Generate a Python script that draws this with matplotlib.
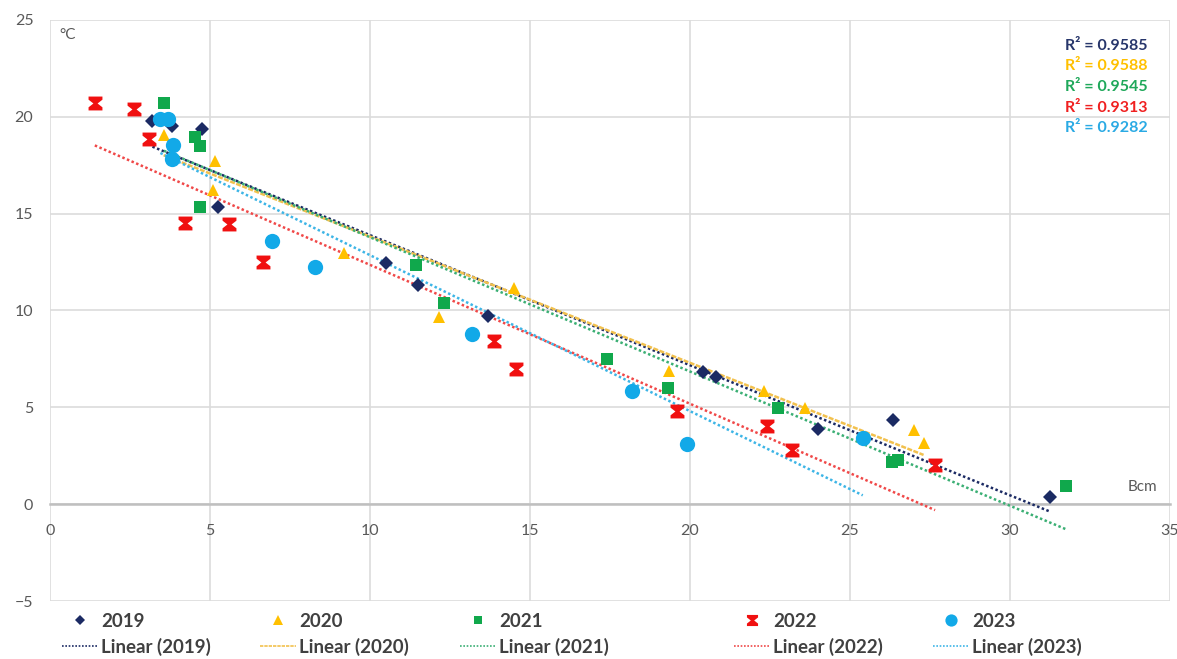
import numpy as np
import matplotlib.pyplot as plt
from matplotlib.path import Path
from matplotlib.lines import Line2D

plt.rcParams['font.family'] = ['Lato', 'DejaVu Sans']

# data (x in Bcm, y in °C)
x2019 = [3.2, 3.8, 4.75, 5.25, 10.5, 11.5, 13.7, 20.4, 20.8, 24.0, 26.35, 31.25]
y2019 = [19.8, 19.5, 19.35, 15.35, 12.45, 11.3, 9.7, 6.8, 6.55, 3.9, 4.35, 0.37]

# one 2020 triangle sits under the cyan cluster near (3.7, 19.9)
x2020 = [3.55, 3.7, 5.15, 5.1, 9.2, 12.15, 14.5, 19.35, 22.3, 23.6, 27.0, 27.3]
y2020 = [19.05, 19.9, 17.7, 16.2, 12.95, 9.67, 11.15, 6.9, 5.85, 4.95, 3.85, 3.15]

x2021 = [3.56, 4.53, 4.7, 4.7, 11.45, 12.3, 17.4, 19.3, 22.75, 26.3, 26.5, 31.75]
y2021 = [20.7, 18.97, 18.5, 15.35, 12.35, 10.4, 7.5, 6.0, 4.95, 2.2, 2.3, 0.95]

x2022 = [1.4, 2.63, 3.1, 4.22, 5.6, 6.66, 13.87, 14.56, 19.6, 22.4, 23.2, 27.66]
y2022 = [20.7, 20.4, 18.85, 14.5, 14.45, 12.5, 8.42, 6.97, 4.8, 4.03, 2.8, 2.0]

x2023 = [3.45, 3.7, 3.85, 3.8, 6.95, 8.28, 13.2, 18.2, 19.9, 25.4]
y2023 = [19.9, 19.9, 18.55, 17.8, 13.6, 12.25, 8.8, 5.85, 3.1, 3.4]

years = ["2019", "2020", "2021", "2022", "2023"]
r2_labels = ["R² = 0.9585", "R² = 0.9588", "R² = 0.9545", "R² = 0.9313", "R² = 0.9282"]

# excel-like "x" marker, looks like an hourglass at this size
hourglass = Path([(-1, 1), (1, 1), (1, 0.55), (0.3, 0), (1, -0.55), (1, -1),
                  (-1, -1), (-1, -0.55), (-0.3, 0), (-1, 0.55), (-1, 1)],
                 [Path.MOVETO] + [Path.LINETO] * 9 + [Path.CLOSEPOLY])

series = [
    (x2019, y2019, '#1B2A63', 'D', 7, '#1B2A63', (0, (1, 1))),
    (x2020, y2020, '#FFC000', '^', 9, '#F2C14E', (0, (2, 0.6))),
    (x2021, y2021, '#10A84C', 's', 8, '#3BAF74', (0, (1, 1))),
    (x2022, y2022, '#F01010', hourglass, 10, '#F04848', (0, (1, 1))),
    (x2023, y2023, '#12A9E8', 'o', 11, '#3DB5E6', (0, (1, 1))),
]
r2_colors = ['#27366B', '#FFC000', '#1FA85A', '#F02020', '#2AAAE4']
# left edge of each legend column, in figure pixels
legend_left = [62, 260, 460, 734, 933]

W, H = 1177, 659
fig = plt.figure(figsize=(W / 100, H / 100), dpi=100)
ax = fig.add_axes([0.0425, 0.088, 0.9515, 0.8817])

for (xs, ys, col, mk, ms, lcol, ls), yr, lx in zip(series, years, legend_left):
    xs = np.array(xs)
    ys = np.array(ys)
    ax.plot(xs, ys, linestyle='none', marker=mk, markersize=ms, color=col,
            markeredgewidth=0, zorder=4)
    # excel linear trendline over the series x range
    k, b = np.polyfit(xs, ys, 1)
    xl = np.array([xs.min(), xs.max()])
    ax.plot(xl, k * xl + b, color=lcol, linestyle=ls, linewidth=1.8, zorder=3)

    hs = [Line2D([], [], linestyle='none', marker=mk, color=col,
                 markersize=ms * 0.8, markeredgewidth=0, label=yr),
          Line2D([], [], color=lcol, linestyle=ls, linewidth=1.2,
                 label="Linear (%s)" % yr)]
    leg = fig.legend(handles=hs, loc='upper left',
                     bbox_to_anchor=(lx / W, 1 - 613 / H), frameon=False,
                     prop={'size': 13.5, 'weight': 'bold'}, handlelength=1.9,
                     handletextpad=0.2, labelspacing=0.4, borderpad=0,
                     borderaxespad=0)
    for t in leg.get_texts():
        t.set_color('#404040')

ax.set_xlim(0, 35)
ax.set_ylim(-5, 25)
ax.set_xticks(np.arange(0, 36, 5))
ax.set_yticks(np.arange(-5, 26, 5))
ax.grid(True, color='#DCDCDC', linewidth=1.2, zorder=0)
ax.set_axisbelow(True)
for s in ['top', 'right', 'left']:
    ax.spines[s].set_visible(False)
ax.spines['bottom'].set_position(('data', 0))
ax.spines['bottom'].set_color('#BFBFBF')
ax.spines['bottom'].set_linewidth(1.8)
ax.tick_params(length=0, labelsize=11.5, labelcolor='#595959')
ax.tick_params(axis='x', pad=14)
ax.tick_params(axis='y', pad=12)

ax.text(0.3, 24.2, "°C", fontsize=11, color='#595959', va='center', ha='left')
ax.text(34.6, 0.5, "Bcm", fontsize=11, color='#595959', va='bottom', ha='right')

for i, (lab, c) in enumerate(zip(r2_labels, r2_colors)):
    ax.text(34.3, 23.66 - i * 1.06, lab, fontsize=11.5, fontweight='bold', color=c,
            ha='right', va='center')

fig.savefig("out.png", dpi=100)
